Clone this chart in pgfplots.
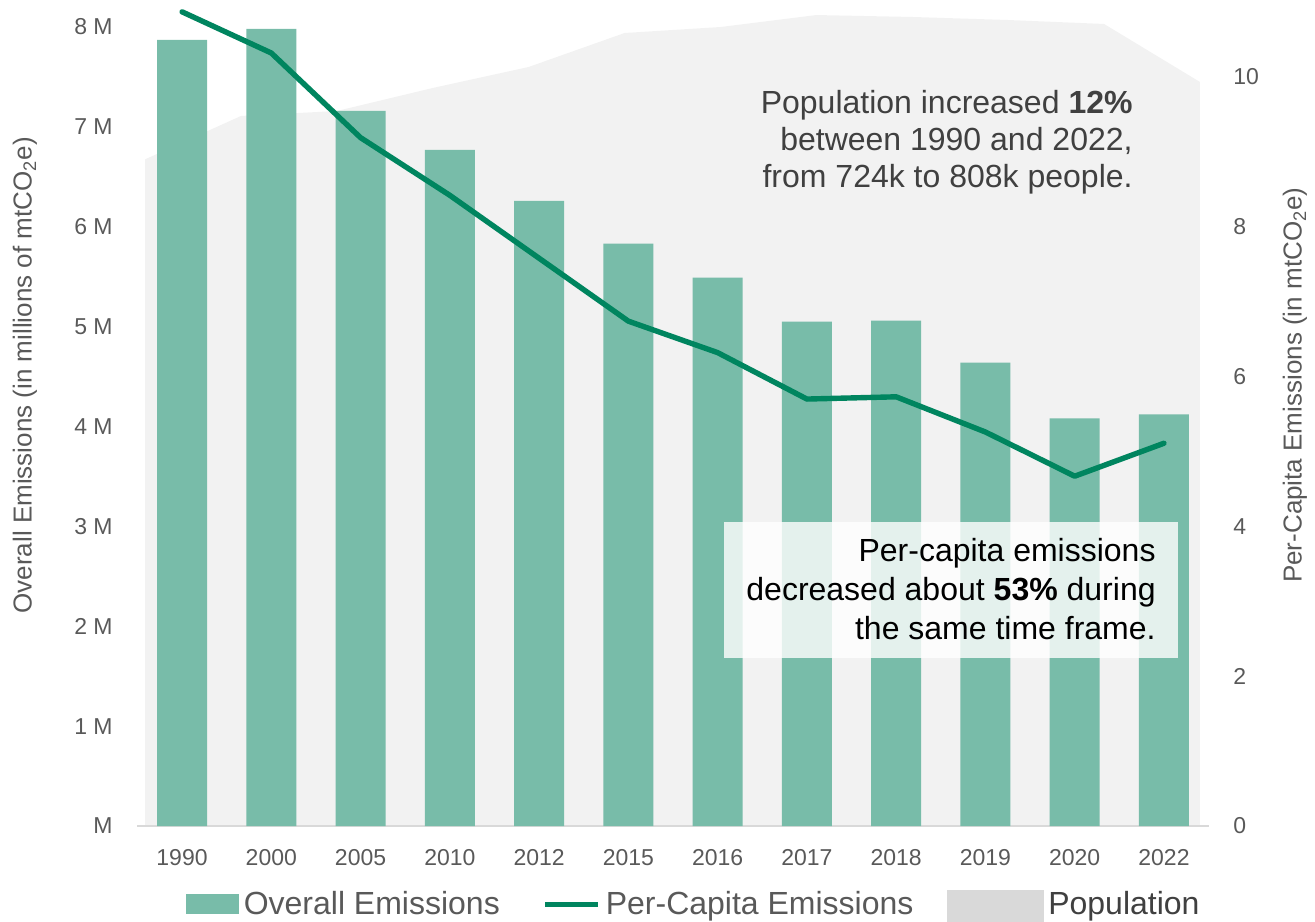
\documentclass[border=0pt]{standalone}
\usepackage{pgfplots}
\pgfplotsset{compat=1.18}
\usepackage{fontspec}
\setmainfont{Liberation Sans}
\definecolor{barcol}{HTML}{78BCA9}
\definecolor{linecol}{HTML}{00855F}
\definecolor{areacol}{HTML}{F2F2F2}
\definecolor{popsw}{HTML}{D9D9D9}
\definecolor{tickcol}{HTML}{595959}
\definecolor{txtdark}{HTML}{404040}
\begin{document}
\begin{tikzpicture}
\pgfplotsset{
  base/.style={width=535.6bp, height=410.5bp, scale only axis},
}
% population area (hidden scale)
\begin{axis}[base, hide axis, xmin=-0.08, xmax=11.09, ymin=0, ymax=891.6]
\addplot[fill=areacol, draw=none] coordinates {
(0,724) (1,771.1) (2,776.5) (3,801.5) (4,824.3) (5,861.2) (6,867.7) (7,880.7) (8,878.6) (9,875.3) (10,871.0) (11,808)
} \closedcycle;
\end{axis}
% bars, left axis
\begin{axis}[base,
  xmin=-0.5, xmax=11.5, ymin=0, ymax=8.22,
  axis x line=bottom, axis y line=left,
  x axis line style={draw=popsw, line width=1.2bp, -},
  y axis line style={draw=none},
  major tick length=0,
  xtick={0,...,11},
  xticklabels={1990,2000,2005,2010,2012,2015,2016,2017,2018,2019,2020,2022},
  ytick={0,...,8},
  yticklabels={M,1 M,2 M,3 M,4 M,5 M,6 M,7 M,8 M},
  xticklabel style={anchor=base, inner sep=0, yshift=-19.5bp, text=tickcol, font=\fontsize{11.5bp}{13bp}\selectfont},
  yticklabel style={anchor=east, inner sep=0, xshift=-12.2bp, text=tickcol, font=\fontsize{11.5bp}{13bp}\selectfont},
  ylabel={Overall Emissions (in millions of mtCO\textsubscript{2}e)},
  ylabel style={at={(axis description cs:-0.105,0.549)}, anchor=center, text=tickcol, font=\fontsize{13bp}{15bp}\selectfont},
]
\addplot[ybar, bar width=0.56, fill=barcol, draw=none] coordinates {
(0,7.87) (1,7.98) (2,7.16) (3,6.77) (4,6.26) (5,5.83) (6,5.49) (7,5.05) (8,5.06) (9,4.64) (10,4.08) (11,4.12)
};
\end{axis}
% line, right axis
\begin{axis}[base,
  xmin=-0.5, xmax=11.5, ymin=0, ymax=10.961,
  axis x line=none, axis y line*=right,
  y axis line style={draw=none},
  major tick length=0,
  clip=false,
  ytick={0,2,...,10},
  /pgf/number format/assume math mode=true,
  yticklabel style={anchor=west, inner sep=0, xshift=12.2bp, text=tickcol, font=\fontsize{11.5bp}{13bp}\selectfont},
  ylabel={Per-Capita Emissions (in mtCO\textsubscript{2}e)},
  ylabel style={at={(axis description cs:1.0806,0.537)}, anchor=center, text=tickcol, font=\fontsize{13bp}{15bp}\selectfont},
  legend columns=3,
  legend style={at={(axis description cs:0.04537,-0.0984)}, anchor=west, draw=none, fill=none, inner sep=0, outer sep=0,
    font=\fontsize{16bp}{18bp}\selectfont, text=tickcol,
    nodes={inner sep=0},
    /tikz/every odd column/.append style={column sep=2.5bp},
    /tikz/every even column/.append style={column sep=16.5bp}},
]
\addlegendimage{legend image code/.code={\fill[barcol] (0bp,-4.8bp) rectangle (26bp,4.7bp);}}
\addlegendentry{Overall Emissions}
\addlegendimage{legend image code/.code={\path (0bp,0bp); \draw[linecol, line width=2.6bp] (6bp,0bp) -- (32.5bp,0bp);}}
\addlegendentry{Per-Capita Emissions}
\addlegendimage{legend image code/.code={\fill[popsw] (0bp,-9.25bp) rectangle (48bp,6.75bp);}}
\addlegendentry{\textcolor{txtdark}{Population}}
\addplot[forget plot, linecol, line width=2.7bp, line cap=round, line join=round] coordinates {
(0,10.87) (1,10.32) (2,9.19) (3,8.42) (4,7.58) (5,6.74) (6,6.32) (7,5.70) (8,5.73) (9,5.26) (10,4.67) (11,5.11)
};
\end{axis}
\fill[white, opacity=0.8] (293.3bp,84bp) rectangle (520.3bp,152bp);
\node[anchor=north east, align=right, inner sep=0, text=txtdark, font=\fontsize{16bp}{18.5bp}\selectfont]
  at (497.8bp,368bp) {Population increased \textbf{12\%}\\ between 1990 and 2022,\\ from 724k to 808k people.};
\node[anchor=north east, align=right, inner sep=0, text=black, font=\fontsize{16bp}{19.5bp}\selectfont]
  at (509.3bp,144bp) {Per-capita emissions\\ decreased about \textbf{53\%} during\\ the same time frame.};
\pgfresetboundingbox
\path[use as bounding box] (-68.7bp,-48bp) rectangle (588.8bp,413bp);
\end{tikzpicture}
\end{document}
